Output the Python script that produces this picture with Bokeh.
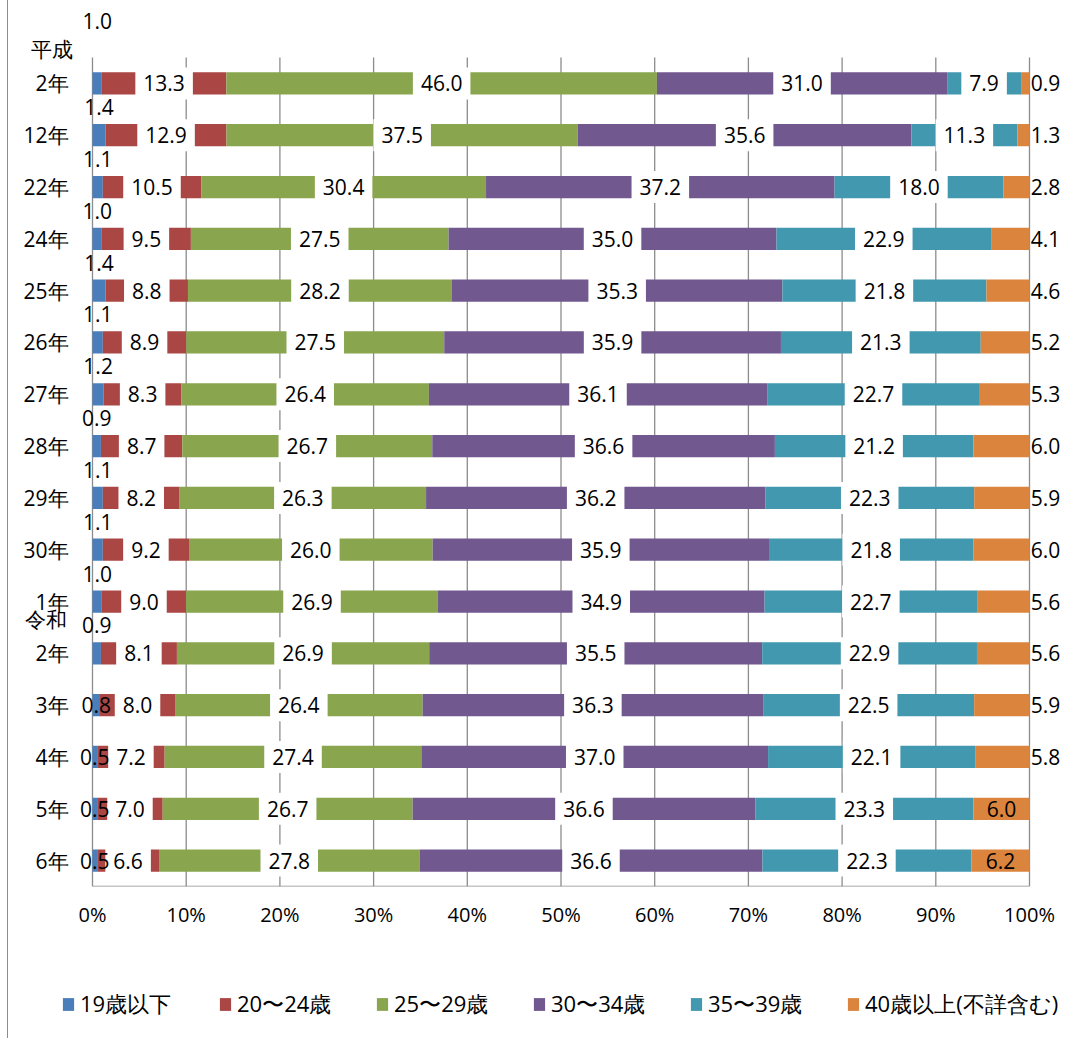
import numpy as np
from bokeh.plotting import figure
from bokeh.layouts import column
from bokeh.models import (ColumnDataSource, Legend, LegendItem, Range1d,
                          FixedTicker, PrintfTickFormatter)
from bokeh.core.properties import value
from bokeh.embed import file_html
from bokeh.resources import INLINE

# ---------------- data ----------------
categories = ["平成2年", "12年", "22年", "24年", "25年", "26年", "27年", "28年",
              "29年", "30年", "1年", "令和2年", "3年", "4年", "5年", "6年"]
series_names = ["19歳以下", "20〜24歳", "25〜29歳", "30〜34歳", "35〜39歳", "40歳以上(不詳含む)"]
age_19_under = [1.0, 1.4, 1.1, 1.0, 1.4, 1.1, 1.2, 0.9, 1.1, 1.1, 1.0, 0.9, 0.8, 0.5, 0.5, 0.5]
age_20_24 = [13.3, 12.9, 10.5, 9.5, 8.8, 8.9, 8.3, 8.7, 8.2, 9.2, 9.0, 8.1, 8.0, 7.2, 7.0, 6.6]
age_25_29 = [46.0, 37.5, 30.4, 27.5, 28.2, 27.5, 26.4, 26.7, 26.3, 26.0, 26.9, 26.9, 26.4, 27.4, 26.7, 27.8]
age_30_34 = [31.0, 35.6, 37.2, 35.0, 35.3, 35.9, 36.1, 36.6, 36.2, 35.9, 34.9, 35.5, 36.3, 37.0, 36.6, 36.6]
age_35_39 = [7.9, 11.3, 18.0, 22.9, 21.8, 21.3, 22.7, 21.2, 22.3, 21.8, 22.7, 22.9, 22.5, 22.1, 23.3, 22.3]
age_40_over = [0.9, 1.3, 2.8, 4.1, 4.6, 5.2, 5.3, 6.0, 5.9, 6.0, 5.6, 5.6, 5.9, 5.8, 6.0, 6.2]
x_ticks = list(range(0, 101, 10))

colors = ["#4A7EBB", "#AA4643", "#89A54E", "#71588F", "#4198AF", "#DB843D"]

series = [age_19_under, age_20_24, age_25_29, age_30_34, age_35_39, age_40_over]
arr = np.array(series, dtype=float)
pct = arr / arr.sum(axis=0) * 100.0
lefts = np.vstack([np.zeros(arr.shape[1]), np.cumsum(pct, axis=0)[:-1]])
centers = lefts + pct / 2.0
n = len(categories)
ypos = [float(n - 1 - j) for j in range(n)]   # first category on top

# ---------------- layout constants (pixels) ----------------
CANVAS_W = 1067
AXIS_PANEL = 50
MAIN_H = 886 + AXIS_PANEL
LEG_H = 102
X0_PX, X100_PX = 84, 1021          # canvas px of 0% and 100%
ROW_TOP_PX, AXIS_PX = 57, 886       # top of first band, bottom axis
ppu = (X100_PX - X0_PX) / 100.0
pitch = (AXIS_PX - ROW_TOP_PX) / n

keys = [f"s{i}" for i in range(len(series))]
data = {"y": ypos}
for k, row in zip(keys, pct):
    data[k] = row
source = ColumnDataSource(data)

FONT = value("Open Sans")
TXT = "#000000"
GRID = "#8c8c8c"

p = figure(width=CANVAS_W, height=MAIN_H,
           x_range=Range1d(-X0_PX / ppu, (CANVAS_W - X0_PX) / ppu),
           y_range=Range1d(-0.5, -0.5 + AXIS_PX / pitch),
           y_axis_location=None,
           output_backend="svg", toolbar_location=None,
           min_border_left=0, min_border_right=0, min_border_top=0,
           min_border_bottom=AXIS_PANEL)
p.outline_line_color = None
p.xgrid.visible = False
p.ygrid.visible = False

# gridlines and axis line limited to the plot area
p.segment(x0=x_ticks, x1=x_ticks, y0=[-0.5] * len(x_ticks), y1=[n - 0.5] * len(x_ticks),
          line_color=GRID, line_width=1.3)
p.segment(x0=[0], x1=[100], y0=[-0.5], y1=[-0.5], line_color=GRID, line_width=1.3)

renderers = p.hbar_stack(keys, y="y", height=0.43, fill_color=colors, line_color=None, source=source)

p.xaxis.ticker = FixedTicker(ticks=x_ticks)
p.xaxis.formatter = PrintfTickFormatter(format="%d%%")
p.xaxis.major_tick_out = 0
p.xaxis.major_tick_in = 0
p.xaxis.minor_tick_out = 0
p.xaxis.minor_tick_in = 0
p.xaxis.axis_line_color = None
p.xaxis.major_label_text_font = "Open Sans"
p.xaxis.major_label_text_font_size = "20px"
p.xaxis.major_label_text_color = TXT
p.xaxis.major_label_standoff = 14

label_kw = dict(text_baseline="middle", text_font=FONT, text_font_size="21px", text_color=TXT)

# middle-series labels (white boxes)
mx, my, mt = [], [], []
for s in range(1, 5):
    for j in range(n):
        mx.append(centers[s][j]); my.append(ypos[j]); mt.append(f"{series[s][j]:.1f}")
p.text(x="x", y="y", text="t", source=ColumnDataSource(dict(x=mx, y=my, t=mt)),
       text_align="center", background_fill_color="white", padding=8, **label_kw)

# 40+ labels: inside the bar for the last rows, right of the bar otherwise
inside_from = 14
lx = [centers[5][j] if j >= inside_from else 100.0 for j in range(n)]
ldx = [0 if j >= inside_from else 16 for j in range(n)]
lt = [f"{v:.1f}" for v in age_40_over]
p.text(x="x", y="y", text="t", x_offset="dx",
       source=ColumnDataSource(dict(x=lx, y=ypos, t=lt, dx=ldx)),
       text_align="center", **label_kw)

# 19-and-under labels (above the bar for the older rows)
above_until = 12
sx = [centers[0][j] for j in range(n)]
sdy = [-62 if j == 0 else (-28 if j < above_until else 0) for j in range(n)]
st = [f"{v:.1f}" for v in age_19_under]
p.text(x="x", y="y", text="t", y_offset="dy",
       source=ColumnDataSource(dict(x=sx, y=ypos, t=st, dy=sdy)),
       text_align="center", **label_kw)

# category labels (year + era line)
era_dx = {"平成": -20, "令和": -26}
years, eras, era_y, era_off = [], [], [], []
for j, c in enumerate(categories):
    if c[:2] in era_dx:
        eras.append(c[:2]); era_y.append(ypos[j]); era_off.append(era_dx[c[:2]]); years.append(c[2:])
    else:
        years.append(c)
p.text(x=[0.0] * n, y=ypos, text=years, x_offset=-24, text_align="right", **label_kw)
p.text(x="x", y="y", text="t", x_offset="dx", y_offset=-34,
       source=ColumnDataSource(dict(x=[0.0] * len(eras), y=era_y, t=eras, dx=era_off)),
       text_align="right", **label_kw)

# ---------------- legend strip ----------------
q = figure(width=CANVAS_W, height=LEG_H, x_range=Range1d(0, 1), y_range=Range1d(0, 1),
           x_axis_location=None, y_axis_location=None,
           output_backend="svg", toolbar_location=None,
           min_border_left=0, min_border_right=0, min_border_top=0, min_border_bottom=0)
q.outline_line_color = None
q.xgrid.visible = False
q.ygrid.visible = False
# off-screen swatch renderers that only feed the legend
swatches = [q.hbar(y=[-10], left=[0], right=[1], height=0.5, fill_color=c, line_color=None)
            for c in colors]
items = [LegendItem(label=name, renderers=[r]) for name, r in zip(series_names, swatches)]
legend = Legend(items=items, orientation="horizontal", location=(53, 18),
                glyph_width=14, glyph_height=16, label_standoff=5, label_width=138, spacing=0,
                padding=0, margin=0, border_line_color=None, background_fill_alpha=0,
                label_text_font="Open Sans", label_text_font_size="22px", label_text_color=TXT)
q.add_layout(legend)

layout = column(p, q, spacing=0, styles={"margin-left": "7px", "border-left": "1px solid #8c8c8c"})

open("out.html", "w").write(file_html(layout, INLINE))
